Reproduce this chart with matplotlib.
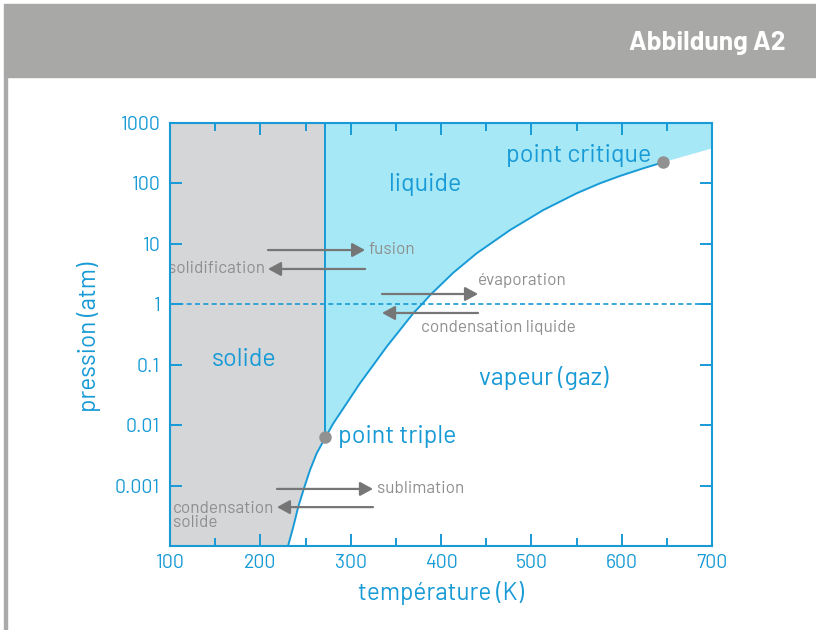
import matplotlib
matplotlib.use("Agg")
import matplotlib.pyplot as plt
from matplotlib.patches import Rectangle
from matplotlib.ticker import FixedLocator, NullLocator

plt.rcParams['font.family'] = ['Barlow', 'DejaVu Sans']

# --- données ---
# courbe de sublimation (solide / vapeur), jusqu'au point triple
sub_T = [230.5, 236.5, 242.0, 248.3, 255.0, 262.4, 272]
sub_p = [9.8e-5, 2.08e-4, 4.47e-4, 9.0e-4, 1.81e-3, 3.42e-3, 6.25e-3]
# courbe de vaporisation, du point triple au point critique
vap_T = [272, 280.8, 295.6, 310.3, 325.1, 339.9, 354.6, 369.3, 380.4, 388,
         413.6, 439.5, 476.4, 513.3, 550.2, 576.0, 598.2, 624.0, 646]
vap_p = [6.25e-3, 0.0107, 0.0230, 0.0493, 0.0989, 0.199, 0.376, 0.710, 1.06, 1.42,
         3.33, 6.98, 16.9, 36.3, 68.7, 100.5, 133, 178, 224]
# limite supérieure de la zone cyan au-delà du point critique
sc_T = [646, 700]
sc_p = [224, 380]
T_fusion = 272
triple = (272, 6.25e-3)
critique = (646, 224)

ytick_vals = [1e3, 1e2, 1e1, 1, 0.1, 0.01, 0.001]
ytick_labels = ['1000', '100', '10', '1', '0.1', '0.01', '0.001']
xtick_vals = [100, 200, 300, 400, 500, 600, 700]

BLUE = '#179ad6'
CYAN = '#a6e8f6'
GREY_FILL = '#d5d6d8'
GREY_TXT = '#8e8e8e'
GREY_ARR = '#767676'

fig = plt.figure(figsize=(8.16, 6.30), dpi=100)

# bandeau gris + filet à gauche
fig.patches.append(Rectangle((4 / 816, 1 - 77 / 630), 1, 73 / 630,
                             transform=fig.transFigure, color='#a8a8a6', zorder=0))
fig.patches.append(Rectangle((4 / 816, 0), 2.5 / 816, 1 - 77 / 630,
                             transform=fig.transFigure, color='#aaaaaa', zorder=0))
fig.text(786 / 816, 1 - 43 / 630, 'Abbildung A2', color='white', fontsize=19,
         fontweight='bold', ha='right', va='center')

ax = fig.add_axes([170 / 816, 1 - 546 / 630, 542 / 816, 423 / 630])
ax.set_yscale('log')
ax.set_xlim(100, 700)
ax.set_ylim(1e-4, 1e3)

# zones solide et liquide
sol_T = [100, 100, T_fusion] + sub_T[::-1]
sol_p = [1e-4, 1e3, 1e3] + sub_p[::-1]
ax.fill(sol_T, sol_p, color=GREY_FILL, lw=0, zorder=1)
liq_T = [T_fusion, 700] + sc_T[::-1] + vap_T[::-1]
liq_p = [1e3, 1e3] + sc_p[::-1] + vap_p[::-1]
ax.fill(liq_T, liq_p, color=CYAN, lw=0, zorder=1)

# courbes
ax.plot(sub_T, sub_p, color=BLUE, lw=1.4, zorder=3)
ax.plot(vap_T, vap_p, color=BLUE, lw=1.4, zorder=3)
ax.plot([T_fusion, T_fusion], [triple[1], 1e3], color=BLUE, lw=1.4, zorder=3)
ax.axhline(1, color=BLUE, lw=1.2, ls=(0, (3, 2)), zorder=3)

ax.plot(*triple, 'o', color='#919191', ms=9, zorder=5, mec='none')
ax.plot(*critique, 'o', color='#919191', ms=9, zorder=5, mec='none')

# textes des zones
big = dict(color=BLUE, fontsize=18)
ax.text(382, 97, 'liquide', ha='center', va='center', **big)
ax.text(633, 290, 'point critique', ha='right', va='center', **big)
ax.text(182, 0.12, 'solide', ha='center', va='center', **big)
ax.text(514, 0.06, 'vapeur (gaz)', ha='center', va='center', **big)
ax.text(286, 0.0064, 'point triple', ha='left', va='center', **big)

# flèches des changements d'état
def fleche(t0, t1, p):
    ax.annotate('', xy=(t1, p), xytext=(t0, p),
                arrowprops=dict(arrowstyle='-|>,head_length=0.55,head_width=0.3',
                                color=GREY_ARR, lw=1.6, mutation_scale=14,
                                shrinkA=0, shrinkB=0), zorder=4)

small = dict(color=GREY_TXT, fontsize=12.3, va='center')
fleche(208.5, 316, 7.9)
ax.text(320, 8.2, 'fusion', ha='left', **small)
fleche(316, 208.5, 3.84)
ax.text(205, 3.84, 'solidification', ha='right', **small)
fleche(334.7, 441, 1.48)
ax.text(441, 2.43, 'évaporation', ha='left', **small)
fleche(441, 334.7, 0.718)
ax.text(378, 0.42, 'condensation liquide', ha='left', **small)
fleche(218.4, 324.7, 8.8e-4)
ax.text(329, 9.0e-4, 'sublimation', ha='left', **small)
fleche(324.7, 218.4, 4.4e-4)
ax.text(103, 3.2e-4, 'condensation\nsolide', ha='left', linespacing=0.95, **small)

# axes
for s in ax.spines.values():
    s.set_color(BLUE)
    s.set_linewidth(1.5)
    s.set_zorder(6)
ax.yaxis.set_major_locator(FixedLocator(ytick_vals))
ax.yaxis.set_minor_locator(NullLocator())
ax.set_yticklabels(ytick_labels)
ax.set_xticks(xtick_vals)
ax.set_xticks(range(150, 700, 100), minor=True)
ax.tick_params(which='both', direction='in', color=BLUE, width=1.4,
               top=True, right=True, labelcolor=BLUE, labelsize=14)
ax.tick_params(which='major', length=8.5)
ax.tick_params(which='minor', length=5.5)
ax.tick_params(axis='y', pad=7)
ax.tick_params(axis='x', pad=6)

ax.set_xlabel('température (K)', color=BLUE, fontsize=17.5)
ax.set_ylabel('pression (atm)', color=BLUE, fontsize=17.5)
ax.xaxis.set_label_coords(0.5, -0.082)
ax.yaxis.set_label_coords(-0.128, 0.494)

fig.savefig('out.png', dpi=100)
